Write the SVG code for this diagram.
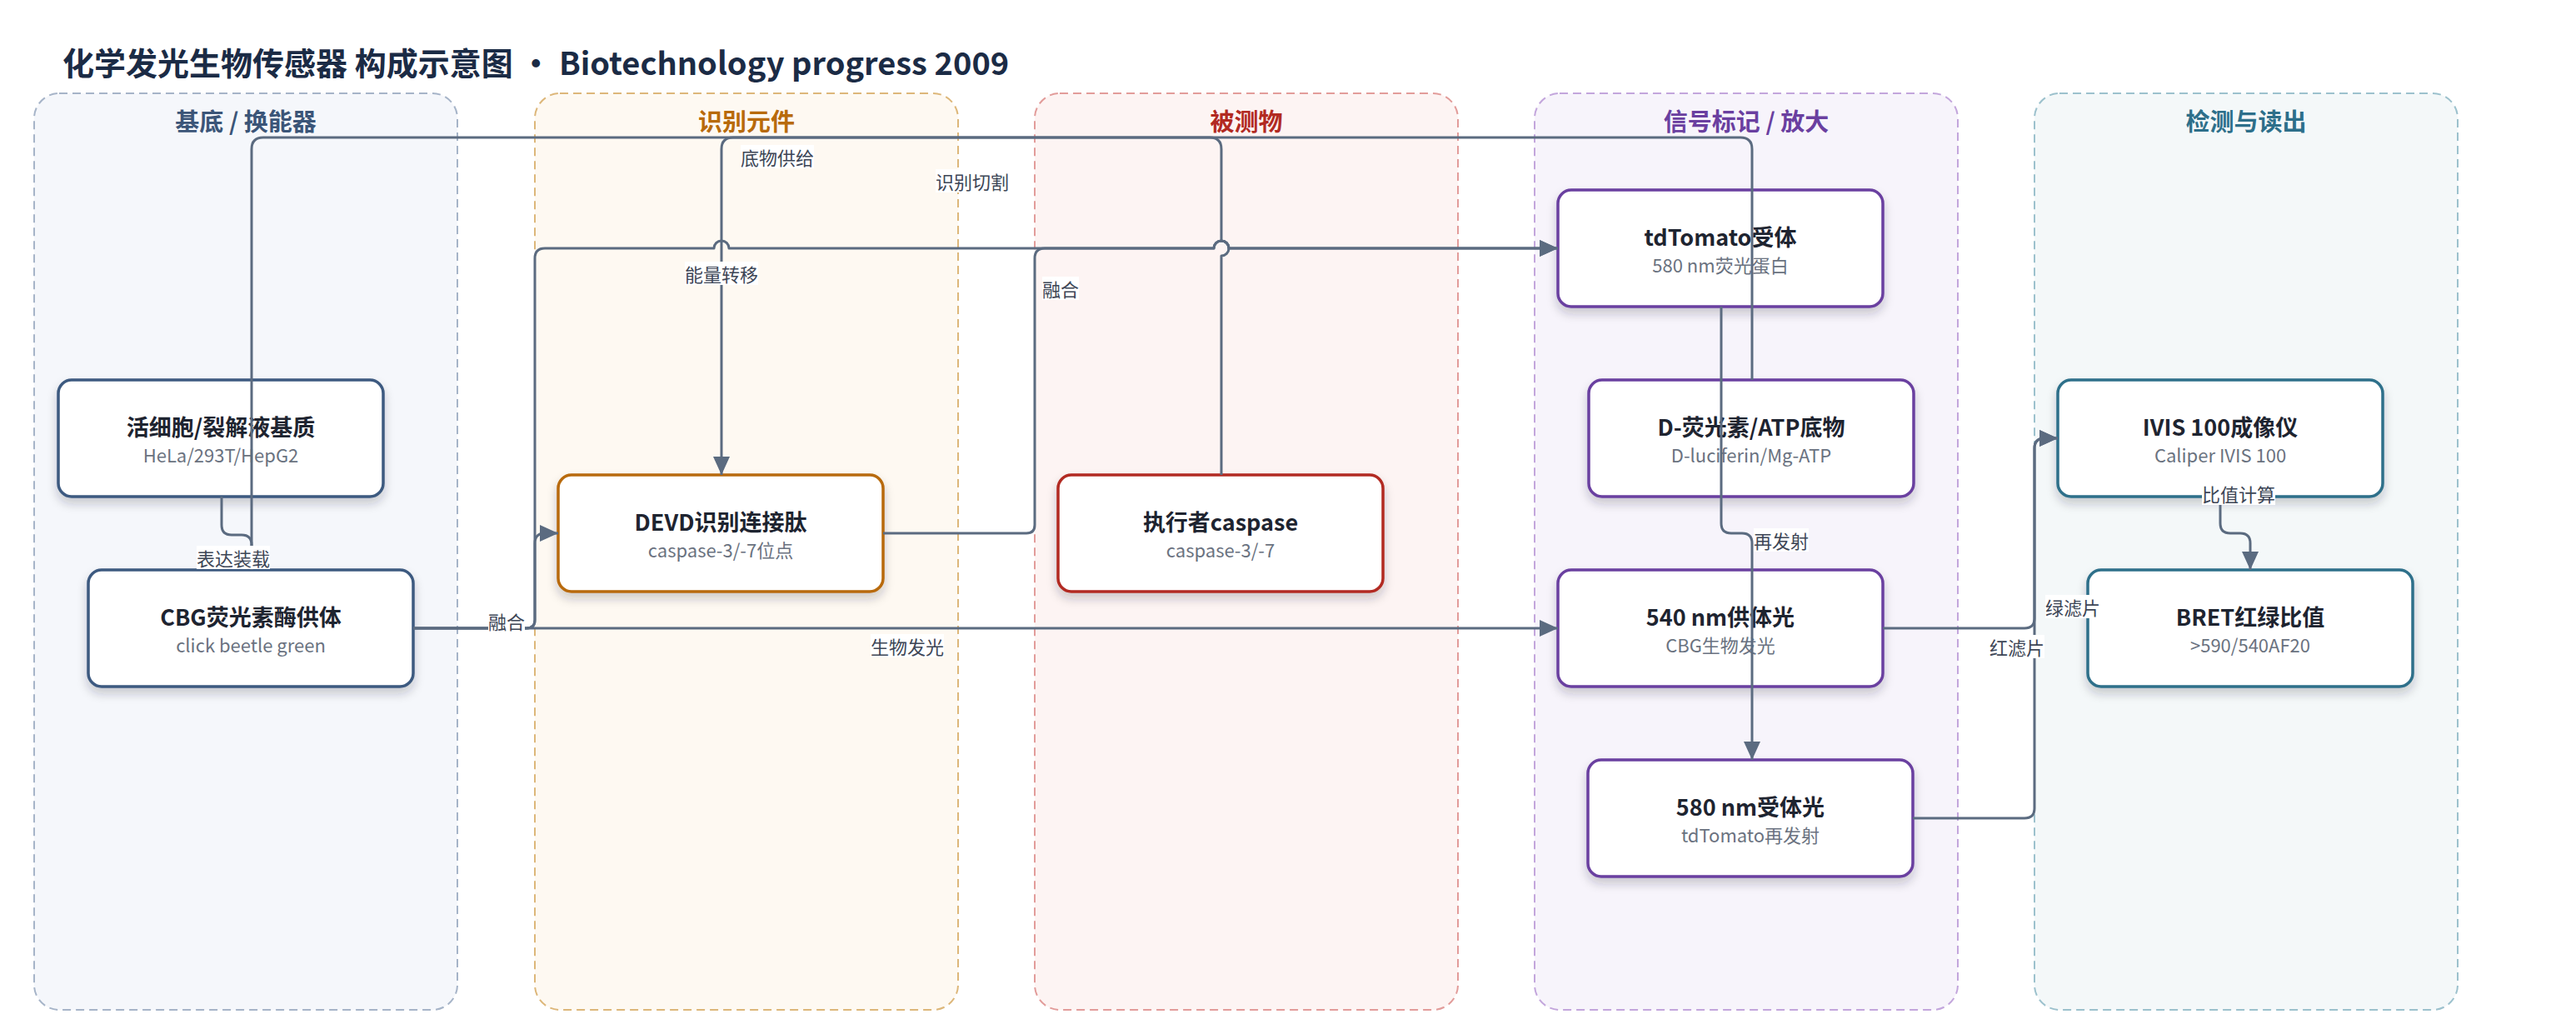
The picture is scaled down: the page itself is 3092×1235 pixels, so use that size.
<svg xmlns="http://www.w3.org/2000/svg" width="3092" height="1235" viewBox="0 0 3092 1235">
<style>
text{font-family:"Noto Sans CJK SC","Noto Sans",sans-serif}
.ttl{font-size:38px;font-weight:700;fill:#1B2B45}
.lt{font-size:29px;font-weight:700;text-anchor:middle}
.lane{stroke-width:2;stroke-dasharray:10 6}
.node{fill:#fff;stroke-width:3.5;filter:url(#sh)}
.nt{font-size:27px;font-weight:700;fill:#1E2430;text-anchor:middle}
.ns{font-size:22px;fill:#6A7280;text-anchor:middle}
.edge{fill:none;stroke:#5B6B80;stroke-width:3;stroke-linejoin:round}
.lbg{fill:#fff}
.lbl{font-size:22px;fill:#3D4656;text-anchor:middle;dominant-baseline:central}
</style>
<defs>
<marker id="arr" markerWidth="22" markerHeight="20" refX="22" refY="10" orient="auto" markerUnits="userSpaceOnUse"><path d="M0,0 L22,10 L0,20 z" fill="#5B6B80"/></marker>
<filter id="sh" x="-20%" y="-20%" width="140%" height="150%"><feDropShadow dx="0" dy="7" stdDeviation="6" flood-color="#1E2430" flood-opacity="0.22"/></filter>
</defs>
<rect width="3092" height="1235" fill="#fff"/>
<text class="ttl" x="75" y="90">化学发光生物传感器 构成示意图 • Biotechnology progress 2009</text>
<g id="lanes">
<g id="lane-substrate"><rect class="lane" x="41" y="112" width="508" height="1100" rx="30" fill="#F5F7FB" stroke="#A6B4C8"/><text class="lt" x="295" y="157" fill="#3B5578">基底 / 换能器</text></g>
<g id="lane-recognition"><rect class="lane" x="642" y="112" width="508" height="1100" rx="30" fill="#FEF9F2" stroke="#DDB77A"/><text class="lt" x="896" y="157" fill="#B86A0B">识别元件</text></g>
<g id="lane-analyte"><rect class="lane" x="1242" y="112" width="508" height="1100" rx="30" fill="#FDF4F3" stroke="#E29C9A"/><text class="lt" x="1496" y="157" fill="#B22A22">被测物</text></g>
<g id="lane-signal"><rect class="lane" x="1842" y="112" width="508" height="1100" rx="30" fill="#F7F4FB" stroke="#C3A6DC"/><text class="lt" x="2096" y="157" fill="#6A3FA0">信号标记 / 放大</text></g>
<g id="lane-readout"><rect class="lane" x="2442" y="112" width="508" height="1100" rx="30" fill="#F4F8F9" stroke="#9CC1CD"/><text class="lt" x="2696" y="157" fill="#2D6F8A">检测与读出</text></g>
</g>
<g id="nodes">
<g id="n-cell"><rect class="node" x="70" y="456" width="390" height="140" rx="16" stroke="#3D5A80"/><text class="nt" x="265" y="523">活细胞/裂解液基质</text><text class="ns" x="265" y="555">HeLa/293T/HepG2</text></g>
<g id="n-cbg"><rect class="node" x="106" y="684" width="390" height="140" rx="16" stroke="#3D5A80"/><text class="nt" x="301" y="751">CBG荧光素酶供体</text><text class="ns" x="301" y="783">click beetle green</text></g>
<g id="n-devd"><rect class="node" x="670" y="570" width="390" height="140" rx="16" stroke="#B86A0B"/><text class="nt" x="865" y="637">DEVD识别连接肽</text><text class="ns" x="865" y="669">caspase-3/-7位点</text></g>
<g id="n-caspase"><rect class="node" x="1270" y="570" width="390" height="140" rx="16" stroke="#B22A22"/><text class="nt" x="1465" y="637">执行者caspase</text><text class="ns" x="1465" y="669">caspase-3/-7</text></g>
<g id="n-tdtomato"><rect class="node" x="1870" y="228" width="390" height="140" rx="16" stroke="#6A3FA0"/><text class="nt" x="2065" y="295">tdTomato受体</text><text class="ns" x="2065" y="327">580 nm荧光蛋白</text></g>
<g id="n-luciferin"><rect class="node" x="1907" y="456" width="390" height="140" rx="16" stroke="#6A3FA0"/><text class="nt" x="2102" y="523">D-荧光素/ATP底物</text><text class="ns" x="2102" y="555">D-luciferin/Mg-ATP</text></g>
<g id="n-540"><rect class="node" x="1870" y="684" width="390" height="140" rx="16" stroke="#6A3FA0"/><text class="nt" x="2065" y="751">540 nm供体光</text><text class="ns" x="2065" y="783">CBG生物发光</text></g>
<g id="n-580"><rect class="node" x="1906" y="912" width="390" height="140" rx="16" stroke="#6A3FA0"/><text class="nt" x="2101" y="979">580 nm受体光</text><text class="ns" x="2101" y="1011">tdTomato再发射</text></g>
<g id="n-ivis"><rect class="node" x="2470" y="456" width="390" height="140" rx="16" stroke="#2D6F8A"/><text class="nt" x="2665" y="523">IVIS 100成像仪</text><text class="ns" x="2665" y="555">Caliper IVIS 100</text></g>
<g id="n-bret"><rect class="node" x="2506" y="684" width="390" height="140" rx="16" stroke="#2D6F8A"/><text class="nt" x="2701" y="751">BRET红绿比值</text><text class="ns" x="2701" y="783">&gt;590/540AF20</text></g>
</g>
<g id="connectors">
<path class="edge" marker-end="url(#arr)" d="M266,596 V630 Q266,642 278,642 H290 Q302,642 302,654 V684"/>
<path class="edge" marker-end="url(#arr)" d="M2103,456 V179 Q2103,165 2089,165 H316 Q302,165 302,179 V684"/>
<path class="edge" marker-end="url(#arr)" d="M1466,570 V307 A9,9 0 0 0 1466,289 V179 Q1466,165 1452,165 H880 Q866,165 866,179 V570"/>
<path class="edge" marker-end="url(#arr)" d="M496,754 H632 Q642,754 642,744 V310 Q642,298 654,298 H857 A9,9 0 0 1 875,298 H1457 A9,9 0 0 1 1475,298 H1870"/>
<path class="edge" marker-end="url(#arr)" d="M496,754 H632 Q642,754 642,744 V652 Q642,640 654,640 H670"/>
<path class="edge" marker-end="url(#arr)" d="M1060,640 H1232 Q1242,640 1242,630 V310 Q1242,298 1254,298 H1457 A9,9 0 0 1 1475,298 H1870"/>
<path class="edge" marker-end="url(#arr)" d="M496,754 H1870"/>
<path class="edge" marker-end="url(#arr)" d="M2066,368 V628 Q2066,640 2078,640 H2091 Q2103,640 2103,652 V912"/>
<path class="edge" marker-end="url(#arr)" d="M2260,754 H2430 Q2442,754 2442,742 V538 Q2442,526 2454,526 H2470"/>
<path class="edge" marker-end="url(#arr)" d="M2296,982 H2430 Q2442,982 2442,970 V538 Q2442,526 2454,526 H2470"/>
<path class="edge" marker-end="url(#arr)" d="M2665,596 V628 Q2665,640 2677,640 H2689 Q2701,640 2701,652 V684"/>
</g>
<g id="labels">
<rect class="lbg" x="236" y="655" width="88" height="28"/><text class="lbl" x="280" y="669">表达装载</text>
<rect class="lbg" x="889" y="174" width="88" height="28"/><text class="lbl" x="933" y="188">底物供给</text>
<rect class="lbg" x="1123" y="203" width="88" height="28"/><text class="lbl" x="1167" y="217">识别切割</text>
<rect class="lbg" x="822" y="314" width="88" height="28"/><text class="lbl" x="866" y="328">能量转移</text>
<rect class="lbg" x="1251" y="332" width="44" height="28"/><text class="lbl" x="1273" y="346">融合</text>
<rect class="lbg" x="586" y="731" width="44" height="28"/><text class="lbl" x="608" y="745">融合</text>
<rect class="lbg" x="1045" y="761" width="88" height="28"/><text class="lbl" x="1089" y="775">生物发光</text>
<rect class="lbg" x="2105" y="634" width="66" height="28"/><text class="lbl" x="2138" y="648">再发射</text>
<rect class="lbg" x="2455" y="714" width="66" height="28"/><text class="lbl" x="2488" y="728">绿滤片</text>
<rect class="lbg" x="2388" y="762" width="66" height="28"/><text class="lbl" x="2421" y="776">红滤片</text>
<rect class="lbg" x="2643" y="578" width="88" height="28"/><text class="lbl" x="2687" y="592">比值计算</text>
</g>
</svg>
